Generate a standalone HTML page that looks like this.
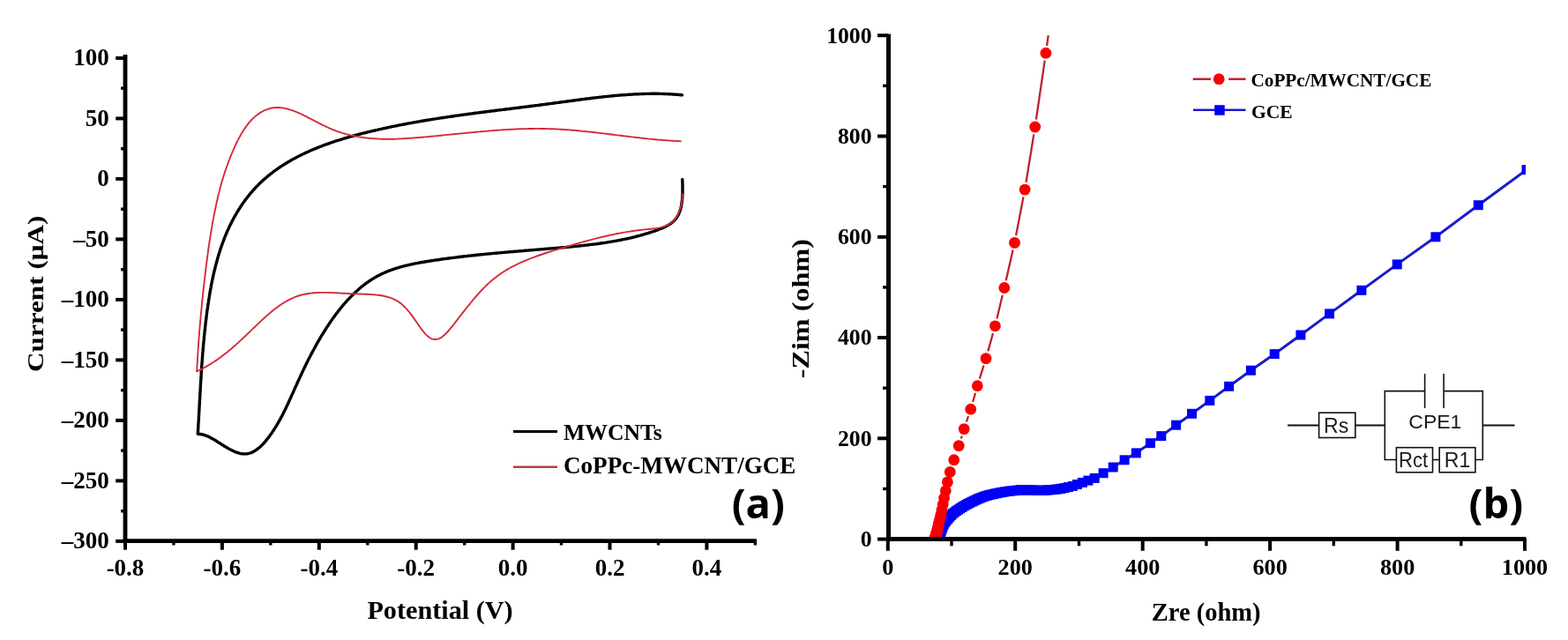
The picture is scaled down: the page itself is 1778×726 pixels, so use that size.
<!DOCTYPE html><html><head><meta charset="utf-8"><style>html,body{margin:0;padding:0;background:#fff;overflow:hidden}svg{display:block}.t{font-family:"Liberation Serif","Times New Roman",serif;font-weight:bold;fill:#000}.s{font-family:"Liberation Sans",Arial,sans-serif}.p{font-family:"Open Sans","Noto Sans","DejaVu Sans",sans-serif;font-weight:bold}</style></head><body>
<svg width="1778" height="726" viewBox="0 0 1778 726">
<rect width="1778" height="726" fill="#fff"/>
<path d="M773.8,203.5L773.8,205.0 773.9,206.5 773.9,208.0 774.0,209.6 774.0,211.2 774.0,212.8 774.0,214.4 774.0,216.0 774.0,217.6 774.0,219.2 773.9,220.9 773.8,222.5 773.7,224.1 773.6,225.7 773.4,227.3 773.2,228.9 773.0,230.5 772.8,232.1 772.5,233.6 772.2,235.1 771.8,236.6 771.4,238.1 770.9,239.5 770.4,240.8 769.9,242.2 769.3,243.5 768.6,244.7 767.9,245.9 767.2,247.1 766.4,248.2 765.5,249.2 764.6,250.2 763.6,251.1 762.6,252.0 761.5,252.9 760.4,253.7 759.3,254.4 758.1,255.2 756.9,255.9 755.6,256.5 754.4,257.2 753.1,257.8 751.8,258.4 750.4,259.0 749.1,259.5 747.7,260.0 746.3,260.6 745.0,261.1 743.6,261.6 742.2,262.1 740.8,262.5 739.4,263.0 738.0,263.5 736.6,263.9 735.2,264.4 733.8,264.8 732.4,265.2 730.9,265.7 729.5,266.1 728.1,266.5 726.7,266.9 725.2,267.3 723.8,267.7 722.4,268.0 720.9,268.4 719.5,268.8 718.0,269.1 716.6,269.5 715.1,269.8 713.6,270.2 712.2,270.5 710.7,270.8 709.3,271.1 707.8,271.4 706.3,271.7 704.8,272.0 703.4,272.3 701.9,272.6 700.4,272.9 698.9,273.2 697.4,273.4 695.9,273.7 694.4,273.9 693.0,274.2 691.5,274.4 690.0,274.7 688.5,274.9 687.0,275.2 685.5,275.4 684.0,275.6 682.5,275.8 680.9,276.0 679.4,276.3 677.9,276.5 676.4,276.7 674.9,276.9 673.4,277.1 671.9,277.2 670.4,277.4 668.9,277.6 667.4,277.8 665.8,278.0 664.3,278.1 662.8,278.3 661.3,278.5 659.8,278.6 658.3,278.8 656.7,279.0 655.2,279.1 653.7,279.3 652.2,279.4 650.7,279.6 649.1,279.7 647.6,279.9 646.1,280.0 644.6,280.2 643.1,280.3 641.6,280.4 640.0,280.6 638.5,280.7 637.0,280.8 635.5,281.0 634.0,281.1 632.5,281.2 631.0,281.4 629.4,281.5 627.9,281.6 626.4,281.7 624.9,281.9 623.4,282.0 621.9,282.1 620.4,282.2 618.9,282.4 617.4,282.5 615.9,282.6 614.4,282.7 612.9,282.9 611.4,283.0 609.9,283.1 608.4,283.2 606.9,283.4 605.4,283.5 603.9,283.6 602.4,283.7 600.9,283.9 599.4,284.0 597.9,284.1 596.4,284.2 594.9,284.3 593.5,284.5 592.0,284.6 590.5,284.7 589.0,284.8 587.5,285.0 586.0,285.1 584.5,285.2 583.0,285.3 581.5,285.5 580.1,285.6 578.6,285.7 577.1,285.8 575.6,286.0 574.1,286.1 572.6,286.2 571.1,286.4 569.7,286.5 568.2,286.6 566.7,286.8 565.2,286.9 563.7,287.0 562.2,287.2 560.7,287.3 559.3,287.4 557.8,287.6 556.3,287.7 554.8,287.9 553.3,288.0 551.8,288.1 550.4,288.3 548.9,288.4 547.4,288.6 545.9,288.7 544.4,288.9 542.9,289.0 541.4,289.2 540.0,289.3 538.5,289.5 537.0,289.7 535.5,289.8 534.0,290.0 532.5,290.1 531.0,290.3 529.6,290.5 528.1,290.6 526.6,290.8 525.1,291.0 523.6,291.2 522.1,291.3 520.6,291.5 519.1,291.7 517.6,291.9 516.1,292.1 514.7,292.3 513.2,292.4 511.7,292.6 510.2,292.8 508.7,293.0 507.2,293.2 505.7,293.4 504.2,293.6 502.7,293.8 501.2,294.0 499.7,294.2 498.2,294.5 496.7,294.7 495.2,294.9 493.7,295.1 492.2,295.3 490.7,295.6 489.2,295.8 487.7,296.0 486.2,296.3 484.7,296.5 483.1,296.8 481.6,297.0 480.1,297.3 478.6,297.5 477.1,297.8 475.6,298.0 474.1,298.3 472.6,298.6 471.1,298.9 469.6,299.2 468.1,299.5 466.6,299.8 465.2,300.1 463.7,300.5 462.2,300.8 460.7,301.2 459.3,301.5 457.8,301.9 456.3,302.3 454.9,302.7 453.4,303.1 452.0,303.5 450.5,304.0 449.1,304.4 447.7,304.9 446.3,305.3 444.8,305.8 443.4,306.3 442.0,306.8 440.6,307.4 439.3,307.9 437.9,308.5 436.5,309.1 435.2,309.7 433.8,310.3 432.5,310.9 431.1,311.6 429.8,312.2 428.5,312.9 427.2,313.6 425.9,314.4 424.6,315.1 423.4,315.9 422.1,316.6 420.9,317.4 419.6,318.2 418.4,319.1 417.2,319.9 416.0,320.8 414.8,321.7 413.6,322.6 412.4,323.5 411.2,324.4 410.1,325.3 408.9,326.3 407.8,327.2 406.6,328.2 405.5,329.2 404.4,330.2 403.3,331.2 402.2,332.3 401.1,333.3 400.0,334.4 398.9,335.4 397.9,336.5 396.8,337.6 395.8,338.7 394.7,339.8 393.7,340.9 392.7,342.0 391.7,343.2 390.7,344.3 389.7,345.5 388.7,346.6 387.7,347.8 386.8,349.0 385.8,350.2 384.9,351.4 383.9,352.6 383.0,353.8 382.0,355.0 381.1,356.2 380.2,357.4 379.3,358.7 378.4,359.9 377.5,361.1 376.6,362.4 375.8,363.6 374.9,364.9 374.1,366.1 373.2,367.4 372.4,368.7 371.5,369.9 370.7,371.2 369.9,372.4 369.1,373.7 368.3,375.0 367.5,376.3 366.7,377.5 365.9,378.8 365.1,380.1 364.3,381.4 363.5,382.7 362.8,384.0 362.0,385.3 361.3,386.5 360.5,387.8 359.8,389.1 359.1,390.4 358.3,391.7 357.6,393.1 356.9,394.4 356.2,395.7 355.5,397.0 354.8,398.3 354.1,399.6 353.4,400.9 352.7,402.2 352.0,403.6 351.3,404.9 350.6,406.2 349.9,407.5 349.3,408.9 348.6,410.2 347.9,411.5 347.3,412.9 346.6,414.2 346.0,415.6 345.3,416.9 344.7,418.2 344.0,419.6 343.4,420.9 342.8,422.3 342.1,423.6 341.5,425.0 340.9,426.3 340.2,427.7 339.6,429.1 339.0,430.4 338.3,431.8 337.7,433.1 337.1,434.5 336.5,435.9 335.9,437.2 335.2,438.6 334.6,440.0 334.0,441.3 333.4,442.7 332.8,444.1 332.2,445.5 331.6,446.8 330.9,448.2 330.3,449.6 329.7,451.0 329.1,452.4 328.4,453.7 327.8,455.1 327.2,456.5 326.6,457.9 325.9,459.2 325.3,460.6 324.6,462.0 324.0,463.3 323.3,464.7 322.6,466.1 321.9,467.4 321.3,468.8 320.6,470.2 319.9,471.5 319.2,472.9 318.4,474.2 317.7,475.6 317.0,476.9 316.2,478.2 315.4,479.6 314.7,480.9 313.9,482.2 313.1,483.6 312.3,484.9 311.4,486.2 310.6,487.5 309.8,488.8 308.9,490.1 308.0,491.4 307.1,492.6 306.2,493.9 305.3,495.2 304.3,496.4 303.3,497.7 302.4,498.9 301.4,500.1 300.4,501.3 299.3,502.5 298.3,503.6 297.2,504.7 296.2,505.7 295.1,506.8 294.0,507.7 292.9,508.7 291.7,509.5 290.6,510.4 289.4,511.1 288.3,511.8 287.1,512.5 285.9,513.1 284.7,513.6 283.5,514.0 282.3,514.4 281.0,514.6 279.8,514.8 278.5,514.9 277.2,514.9 276.0,514.9 274.7,514.8 273.4,514.6 272.1,514.3 270.8,513.9 269.4,513.5 268.1,513.1 266.8,512.6 265.4,512.0 264.1,511.4 262.7,510.8 261.4,510.1 260.0,509.4 258.7,508.6 257.3,507.8 256.0,507.0 254.6,506.2 253.2,505.3 251.9,504.5 250.5,503.6 249.2,502.7 247.8,501.9 246.4,501.0 245.1,500.1 243.7,499.3 242.4,498.5 241.0,497.7 239.6,496.9 238.3,496.2 236.9,495.5 235.5,494.9 234.1,494.3 232.7,493.8 231.4,493.4 230.0,493.0 228.6,492.7 227.1,492.5 225.7,492.3 224.3,492.3 224.4,490.8 224.5,489.3 224.6,487.8 224.7,486.3 224.8,484.8 224.8,483.3 224.9,481.8 225.0,480.3 225.1,478.8 225.2,477.3 225.3,475.8 225.4,474.3 225.4,472.8 225.5,471.3 225.6,469.8 225.7,468.3 225.8,466.8 225.9,465.3 225.9,463.8 226.0,462.4 226.1,460.9 226.2,459.4 226.3,457.9 226.3,456.4 226.4,454.9 226.5,453.4 226.6,451.9 226.7,450.4 226.8,448.9 226.8,447.4 226.9,445.9 227.0,444.4 227.1,443.0 227.2,441.5 227.3,440.0 227.3,438.5 227.4,437.0 227.5,435.5 227.6,434.0 227.7,432.5 227.8,431.0 227.9,429.5 228.0,428.0 228.1,426.6 228.2,425.1 228.2,423.6 228.3,422.1 228.4,420.6 228.5,419.1 228.6,417.6 228.7,416.1 228.8,414.6 228.9,413.1 229.0,411.6 229.2,410.1 229.3,408.6 229.4,407.2 229.5,405.7 229.6,404.2 229.7,402.7 229.8,401.2 229.9,399.7 230.1,398.2 230.2,396.7 230.3,395.2 230.4,393.7 230.6,392.2 230.7,390.7 230.8,389.2 231.0,387.7 231.1,386.2 231.3,384.7 231.4,383.2 231.5,381.7 231.7,380.2 231.8,378.7 232.0,377.2 232.1,375.7 232.3,374.2 232.5,372.7 232.6,371.2 232.8,369.7 233.0,368.2 233.1,366.7 233.3,365.2 233.5,363.7 233.7,362.2 233.9,360.7 234.1,359.1 234.2,357.6 234.4,356.1 234.6,354.6 234.8,353.1 235.0,351.6 235.3,350.1 235.5,348.6 235.7,347.0 235.9,345.5 236.1,344.0 236.4,342.5 236.6,341.0 236.8,339.5 237.1,338.0 237.3,336.4 237.6,334.9 237.8,333.4 238.1,331.9 238.3,330.4 238.6,328.9 238.9,327.4 239.2,325.8 239.4,324.3 239.7,322.8 240.0,321.3 240.3,319.8 240.6,318.3 240.9,316.8 241.3,315.3 241.6,313.8 241.9,312.3 242.2,310.8 242.6,309.3 242.9,307.8 243.3,306.3 243.7,304.8 244.0,303.4 244.4,301.9 244.8,300.4 245.2,298.9 245.6,297.4 246.0,296.0 246.4,294.5 246.8,293.0 247.2,291.6 247.6,290.1 248.1,288.6 248.5,287.2 249.0,285.7 249.5,284.3 249.9,282.8 250.4,281.4 250.9,280.0 251.4,278.5 251.9,277.1 252.4,275.7 252.9,274.3 253.5,272.9 254.0,271.5 254.5,270.0 255.1,268.6 255.7,267.3 256.2,265.9 256.8,264.5 257.4,263.1 258.0,261.7 258.6,260.4 259.3,259.0 259.9,257.6 260.5,256.3 261.2,254.9 261.9,253.6 262.5,252.3 263.2,250.9 263.9,249.6 264.6,248.3 265.3,247.0 266.0,245.7 266.8,244.4 267.5,243.1 268.3,241.8 269.0,240.5 269.8,239.3 270.6,238.0 271.4,236.7 272.2,235.5 273.0,234.3 273.8,233.0 274.6,231.8 275.5,230.6 276.3,229.4 277.2,228.2 278.0,227.0 278.9,225.8 279.8,224.7 280.7,223.5 281.6,222.4 282.5,221.2 283.4,220.1 284.4,219.0 285.3,217.9 286.3,216.8 287.3,215.7 288.2,214.6 289.2,213.5 290.2,212.4 291.2,211.4 292.2,210.4 293.3,209.3 294.3,208.3 295.3,207.3 296.4,206.3 297.5,205.3 298.5,204.3 299.6,203.4 300.7,202.4 301.8,201.5 302.9,200.5 304.0,199.6 305.2,198.7 306.3,197.8 307.4,196.9 308.6,196.0 309.7,195.1 310.9,194.2 312.1,193.4 313.3,192.5 314.5,191.7 315.7,190.8 316.9,190.0 318.1,189.2 319.3,188.4 320.5,187.6 321.8,186.8 323.0,186.0 324.3,185.3 325.5,184.5 326.8,183.7 328.1,183.0 329.4,182.3 330.6,181.5 331.9,180.8 333.2,180.1 334.5,179.4 335.8,178.7 337.2,178.0 338.5,177.3 339.8,176.7 341.1,176.0 342.5,175.3 343.8,174.7 345.2,174.0 346.5,173.4 347.9,172.8 349.3,172.2 350.6,171.5 352.0,170.9 353.4,170.3 354.8,169.7 356.2,169.2 357.6,168.6 359.0,168.0 360.4,167.4 361.8,166.9 363.2,166.3 364.6,165.8 366.0,165.2 367.5,164.7 368.9,164.2 370.3,163.7 371.8,163.1 373.2,162.6 374.6,162.1 376.1,161.6 377.5,161.1 379.0,160.6 380.4,160.2 381.9,159.7 383.4,159.2 384.8,158.8 386.3,158.3 387.7,157.8 389.2,157.4 390.7,156.9 392.2,156.5 393.6,156.1 395.1,155.6 396.6,155.2 398.1,154.8 399.6,154.4 401.1,154.0 402.5,153.6 404.0,153.2 405.5,152.8 407.0,152.4 408.5,152.0 410.0,151.6 411.5,151.2 413.0,150.8 414.5,150.5 416.0,150.1 417.5,149.7 419.0,149.4 420.5,149.0 421.9,148.7 423.4,148.3 424.9,148.0 426.4,147.6 427.9,147.3 429.4,146.9 430.9,146.6 432.4,146.3 433.9,145.9 435.4,145.6 436.9,145.3 438.4,145.0 439.9,144.6 441.4,144.3 442.9,144.0 444.4,143.7 445.8,143.4 447.3,143.1 448.8,142.8 450.3,142.5 451.8,142.2 453.3,141.9 454.8,141.6 456.3,141.3 457.8,141.0 459.2,140.8 460.7,140.5 462.2,140.2 463.7,139.9 465.2,139.7 466.7,139.4 468.2,139.1 469.6,138.8 471.1,138.6 472.6,138.3 474.1,138.1 475.6,137.8 477.1,137.5 478.5,137.3 480.0,137.0 481.5,136.8 483.0,136.5 484.5,136.3 485.9,136.1 487.4,135.8 488.9,135.6 490.4,135.3 491.9,135.1 493.4,134.9 494.8,134.6 496.3,134.4 497.8,134.2 499.3,133.9 500.8,133.7 502.2,133.5 503.7,133.3 505.2,133.1 506.7,132.8 508.1,132.6 509.6,132.4 511.1,132.2 512.6,132.0 514.1,131.8 515.5,131.5 517.0,131.3 518.5,131.1 520.0,130.9 521.4,130.7 522.9,130.5 524.4,130.3 525.9,130.1 527.4,129.9 528.8,129.7 530.3,129.5 531.8,129.3 533.3,129.1 534.7,128.9 536.2,128.7 537.7,128.5 539.2,128.3 540.7,128.1 542.1,127.9 543.6,127.7 545.1,127.5 546.6,127.4 548.0,127.2 549.5,127.0 551.0,126.8 552.5,126.6 553.9,126.4 555.4,126.2 556.9,126.0 558.4,125.9 559.9,125.7 561.3,125.5 562.8,125.3 564.3,125.1 565.8,124.9 567.3,124.7 568.7,124.6 570.2,124.4 571.7,124.2 573.2,124.0 574.6,123.8 576.1,123.6 577.6,123.5 579.1,123.3 580.6,123.1 582.0,122.9 583.5,122.7 585.0,122.5 586.5,122.4 588.0,122.2 589.5,122.0 590.9,121.8 592.4,121.6 593.9,121.4 595.4,121.2 596.9,121.1 598.3,120.9 599.8,120.7 601.3,120.5 602.8,120.3 604.3,120.1 605.8,119.9 607.2,119.7 608.7,119.6 610.2,119.4 611.7,119.2 613.2,119.0 614.7,118.8 616.2,118.6 617.7,118.4 619.1,118.2 620.6,118.0 622.1,117.8 623.6,117.6 625.1,117.4 626.6,117.2 628.1,117.0 629.6,116.8 631.1,116.6 632.5,116.4 634.0,116.2 635.5,116.0 637.0,115.8 638.5,115.6 640.0,115.4 641.5,115.2 643.0,115.0 644.5,114.8 646.0,114.6 647.5,114.4 649.0,114.2 650.5,114.0 652.0,113.8 653.5,113.6 654.9,113.4 656.4,113.2 657.9,113.0 659.4,112.8 660.9,112.6 662.4,112.4 663.9,112.2 665.4,112.0 666.9,111.9 668.4,111.7 669.9,111.5 671.4,111.3 672.9,111.1 674.4,110.9 675.9,110.8 677.4,110.6 678.9,110.4 680.4,110.2 681.9,110.1 683.4,109.9 684.9,109.7 686.4,109.6 687.9,109.4 689.4,109.3 690.9,109.1 692.4,109.0 693.9,108.8 695.4,108.7 696.9,108.5 698.4,108.4 699.9,108.3 701.4,108.1 702.9,108.0 704.4,107.9 705.9,107.8 707.4,107.7 708.9,107.6 710.4,107.5 711.9,107.4 713.4,107.3 714.9,107.2 716.4,107.1 717.9,107.0 719.4,106.9 720.9,106.8 722.5,106.8 724.0,106.7 725.5,106.6 727.0,106.6 728.5,106.5 730.0,106.5 731.5,106.4 733.0,106.4 734.5,106.4 736.0,106.4 737.5,106.3 739.0,106.3 740.5,106.3 742.0,106.3 743.5,106.3 745.0,106.3 746.5,106.3 748.0,106.4 749.5,106.4 751.0,106.4 752.5,106.5 754.0,106.5 755.5,106.6 757.0,106.6 758.5,106.7 760.0,106.8 761.5,106.9 763.0,107.0 764.5,107.1 766.0,107.2 767.5,107.3 769.0,107.4 770.5,107.5 772.0,107.7 773.5,107.8" fill="none" stroke="#000" stroke-width="3.4" stroke-linejoin="round" stroke-linecap="round"/>
<path d="M773.8,219.5L773.8,221.0 773.8,222.4 773.7,224.0 773.6,225.5 773.4,227.0 773.2,228.6 772.9,230.1 772.6,231.7 772.3,233.2 771.9,234.8 771.5,236.3 771.0,237.8 770.5,239.3 769.9,240.7 769.3,242.1 768.7,243.5 767.9,244.8 767.2,246.1 766.4,247.3 765.5,248.5 764.6,249.6 763.6,250.7 762.6,251.6 761.6,252.5 760.4,253.3 759.3,254.1 758.1,254.8 756.8,255.4 755.5,256.0 754.2,256.5 752.9,256.9 751.5,257.4 750.0,257.7 748.6,258.1 747.1,258.4 745.6,258.6 744.1,258.9 742.6,259.1 741.1,259.3 739.5,259.5 738.0,259.7 736.4,259.8 734.9,260.0 733.3,260.1 731.8,260.3 730.2,260.4 728.7,260.6 727.1,260.8 725.6,261.0 724.0,261.2 722.5,261.3 721.0,261.6 719.5,261.8 718.0,262.0 716.5,262.2 715.0,262.4 713.5,262.7 712.0,262.9 710.5,263.1 709.0,263.4 707.5,263.6 706.0,263.9 704.6,264.2 703.1,264.4 701.6,264.7 700.2,265.0 698.7,265.3 697.3,265.6 695.8,265.9 694.3,266.2 692.9,266.5 691.4,266.8 690.0,267.1 688.6,267.5 687.1,267.8 685.7,268.1 684.2,268.5 682.8,268.8 681.4,269.1 679.9,269.5 678.5,269.8 677.1,270.2 675.6,270.6 674.2,270.9 672.8,271.3 671.3,271.7 669.9,272.1 668.5,272.4 667.0,272.8 665.6,273.2 664.2,273.6 662.7,274.0 661.3,274.4 659.9,274.8 658.4,275.2 657.0,275.6 655.6,276.0 654.1,276.4 652.7,276.8 651.2,277.2 649.8,277.6 648.4,278.1 646.9,278.5 645.5,278.9 644.0,279.3 642.6,279.8 641.1,280.2 639.6,280.6 638.2,281.1 636.7,281.5 635.2,281.9 633.8,282.4 632.3,282.8 630.8,283.3 629.4,283.7 627.9,284.2 626.4,284.6 624.9,285.1 623.5,285.6 622.0,286.0 620.5,286.5 619.1,287.0 617.6,287.5 616.1,288.0 614.7,288.5 613.2,289.0 611.7,289.5 610.3,290.0 608.8,290.5 607.4,291.0 605.9,291.6 604.5,292.1 603.1,292.6 601.6,293.2 600.2,293.8 598.8,294.3 597.4,294.9 596.0,295.5 594.6,296.1 593.2,296.7 591.8,297.3 590.4,297.9 589.0,298.5 587.6,299.2 586.3,299.8 584.9,300.5 583.6,301.2 582.3,301.9 580.9,302.5 579.6,303.2 578.3,304.0 577.0,304.7 575.7,305.4 574.5,306.2 573.2,306.9 571.9,307.7 570.7,308.5 569.5,309.3 568.3,310.1 567.0,310.9 565.9,311.8 564.7,312.6 563.5,313.5 562.4,314.4 561.2,315.3 560.1,316.2 559.0,317.1 557.9,318.0 556.8,319.0 555.7,319.9 554.6,320.9 553.5,321.9 552.5,322.8 551.4,323.8 550.4,324.9 549.4,325.9 548.3,326.9 547.3,328.0 546.3,329.0 545.3,330.1 544.3,331.2 543.3,332.3 542.3,333.4 541.3,334.5 540.3,335.6 539.4,336.7 538.4,337.9 537.4,339.0 536.4,340.2 535.5,341.3 534.5,342.5 533.5,343.7 532.6,344.9 531.6,346.1 530.6,347.3 529.7,348.5 528.7,349.7 527.8,350.9 526.8,352.2 525.8,353.4 524.8,354.6 523.9,355.9 522.9,357.2 521.9,358.4 520.9,359.7 519.9,361.0 518.9,362.3 517.9,363.6 516.9,364.9 515.9,366.2 514.9,367.5 513.9,368.8 512.8,370.1 511.8,371.4 510.7,372.7 509.7,373.9 508.6,375.2 507.6,376.4 506.5,377.5 505.4,378.6 504.3,379.7 503.2,380.6 502.1,381.5 501.0,382.4 499.9,383.1 498.8,383.7 497.6,384.2 496.5,384.6 495.3,384.9 494.2,385.0 493.1,385.0 491.9,384.9 490.8,384.7 489.7,384.3 488.6,383.8 487.6,383.2 486.5,382.5 485.5,381.7 484.5,380.9 483.4,379.9 482.4,378.9 481.4,377.8 480.5,376.6 479.5,375.4 478.5,374.1 477.5,372.9 476.6,371.5 475.7,370.2 474.7,368.9 473.8,367.5 472.9,366.2 471.9,364.8 471.0,363.5 470.1,362.2 469.2,360.9 468.3,359.6 467.4,358.4 466.4,357.1 465.5,355.9 464.6,354.7 463.6,353.5 462.7,352.4 461.7,351.2 460.7,350.1 459.7,349.1 458.7,348.0 457.7,347.0 456.7,346.1 455.6,345.1 454.5,344.3 453.4,343.4 452.3,342.6 451.1,341.8 449.9,341.1 448.7,340.4 447.5,339.8 446.2,339.2 444.9,338.7 443.6,338.2 442.2,337.7 440.9,337.2 439.5,336.8 438.1,336.5 436.7,336.1 435.2,335.8 433.8,335.5 432.3,335.3 430.8,335.0 429.3,334.8 427.8,334.6 426.2,334.5 424.7,334.3 423.1,334.2 421.6,334.1 420.0,334.0 418.4,333.9 416.9,333.8 415.3,333.7 413.7,333.7 412.1,333.6 410.5,333.5 408.9,333.5 407.3,333.5 405.7,333.4 404.1,333.4 402.5,333.3 400.9,333.3 399.3,333.2 397.7,333.1 396.1,333.1 394.5,333.0 393.0,332.9 391.4,332.8 389.8,332.7 388.3,332.7 386.7,332.6 385.2,332.5 383.6,332.4 382.1,332.3 380.5,332.3 379.0,332.2 377.5,332.1 376.0,332.1 374.5,332.0 373.0,331.9 371.5,331.9 370.0,331.9 368.5,331.9 367.0,331.9 365.5,331.9 364.0,331.9 362.6,331.9 361.1,332.0 359.7,332.0 358.2,332.1 356.8,332.2 355.3,332.3 353.9,332.5 352.5,332.6 351.1,332.8 349.6,333.0 348.2,333.2 346.8,333.5 345.5,333.8 344.1,334.1 342.7,334.4 341.3,334.7 340.0,335.1 338.6,335.5 337.2,336.0 335.9,336.4 334.6,336.9 333.2,337.5 331.9,338.1 330.6,338.6 329.3,339.3 328.0,339.9 326.7,340.6 325.4,341.3 324.1,342.0 322.8,342.8 321.6,343.6 320.3,344.4 319.0,345.2 317.8,346.1 316.5,346.9 315.3,347.8 314.1,348.7 312.8,349.6 311.6,350.6 310.4,351.5 309.2,352.5 308.0,353.5 306.8,354.5 305.6,355.5 304.4,356.5 303.2,357.6 302.0,358.6 300.8,359.7 299.7,360.7 298.5,361.8 297.3,362.8 296.2,363.9 295.0,365.0 293.9,366.1 292.7,367.2 291.6,368.3 290.4,369.4 289.3,370.5 288.2,371.6 287.0,372.6 285.9,373.7 284.8,374.8 283.7,375.9 282.6,377.0 281.4,378.0 280.3,379.1 279.2,380.2 278.1,381.2 277.0,382.3 275.9,383.3 274.8,384.3 273.7,385.4 272.6,386.4 271.5,387.4 270.4,388.4 269.3,389.4 268.2,390.4 267.1,391.4 266.0,392.3 264.9,393.3 263.8,394.3 262.7,395.2 261.6,396.2 260.5,397.1 259.3,398.1 258.2,399.0 257.1,399.9 255.9,400.8 254.8,401.7 253.6,402.6 252.5,403.5 251.3,404.3 250.2,405.2 249.0,406.1 247.8,406.9 246.6,407.8 245.4,408.6 244.2,409.4 243.0,410.2 241.7,411.0 240.5,411.8 239.2,412.6 238.0,413.4 236.7,414.2 235.4,414.9 234.1,415.7 232.8,416.4 231.5,417.1 230.1,417.9 228.8,418.6 227.4,419.3 226.0,420.0 224.6,420.6 223.2,421.3 223.3,419.8 223.3,418.3 223.4,416.8 223.5,415.3 223.6,413.8 223.7,412.2 223.8,410.7 223.8,409.2 223.9,407.7 224.0,406.2 224.1,404.7 224.2,403.2 224.3,401.7 224.4,400.2 224.5,398.7 224.6,397.2 224.7,395.7 224.8,394.2 224.9,392.7 225.0,391.2 225.1,389.7 225.2,388.2 225.3,386.7 225.4,385.2 225.5,383.8 225.7,382.3 225.8,380.8 225.9,379.3 226.0,377.8 226.1,376.3 226.2,374.8 226.4,373.3 226.5,371.8 226.6,370.3 226.7,368.8 226.9,367.3 227.0,365.8 227.1,364.4 227.3,362.9 227.4,361.4 227.5,359.9 227.7,358.4 227.8,356.9 227.9,355.4 228.1,353.9 228.2,352.4 228.4,350.9 228.5,349.4 228.7,348.0 228.8,346.5 229.0,345.0 229.1,343.5 229.3,342.0 229.4,340.5 229.6,339.0 229.7,337.5 229.9,336.0 230.0,334.5 230.2,333.0 230.4,331.5 230.5,330.0 230.7,328.5 230.8,327.0 231.0,325.5 231.2,324.1 231.3,322.6 231.5,321.1 231.7,319.6 231.9,318.1 232.0,316.6 232.2,315.1 232.4,313.6 232.5,312.0 232.7,310.5 232.9,309.0 233.1,307.5 233.3,306.0 233.4,304.5 233.6,303.0 233.8,301.5 234.0,300.0 234.2,298.5 234.4,297.0 234.6,295.5 234.8,294.0 235.0,292.5 235.2,291.0 235.4,289.5 235.6,288.0 235.8,286.5 236.0,285.0 236.2,283.5 236.4,282.0 236.6,280.5 236.8,279.0 237.1,277.5 237.3,276.0 237.5,274.5 237.7,273.0 238.0,271.5 238.2,270.0 238.4,268.6 238.7,267.1 238.9,265.6 239.1,264.1 239.4,262.6 239.6,261.1 239.9,259.6 240.1,258.2 240.4,256.7 240.6,255.2 240.9,253.7 241.2,252.3 241.4,250.8 241.7,249.3 242.0,247.9 242.3,246.4 242.5,244.9 242.8,243.5 243.1,242.0 243.4,240.6 243.7,239.1 244.0,237.7 244.3,236.2 244.6,234.8 244.9,233.3 245.2,231.9 245.5,230.4 245.8,229.0 246.2,227.6 246.5,226.1 246.8,224.7 247.1,223.3 247.5,221.9 247.8,220.4 248.2,219.0 248.5,217.6 248.9,216.2 249.3,214.7 249.6,213.3 250.0,211.9 250.4,210.5 250.8,209.1 251.2,207.6 251.6,206.2 252.0,204.8 252.4,203.4 252.9,202.0 253.3,200.6 253.7,199.1 254.2,197.7 254.6,196.3 255.1,194.9 255.6,193.4 256.1,192.0 256.6,190.6 257.1,189.2 257.6,187.7 258.1,186.3 258.6,184.8 259.2,183.4 259.7,182.0 260.3,180.5 260.8,179.1 261.4,177.6 262.0,176.2 262.6,174.7 263.2,173.3 263.8,171.8 264.5,170.3 265.1,168.9 265.8,167.4 266.4,165.9 267.1,164.4 267.8,163.0 268.5,161.5 269.2,160.1 270.0,158.6 270.7,157.2 271.5,155.8 272.3,154.3 273.0,152.9 273.8,151.6 274.7,150.2 275.5,148.8 276.4,147.5 277.2,146.2 278.1,144.9 279.0,143.6 279.9,142.3 280.9,141.1 281.8,139.9 282.8,138.7 283.8,137.6 284.8,136.5 285.8,135.4 286.9,134.4 287.9,133.4 289.0,132.4 290.1,131.4 291.3,130.5 292.4,129.7 293.6,128.9 294.7,128.1 295.9,127.4 297.1,126.7 298.4,126.0 299.6,125.4 300.8,124.9 302.1,124.3 303.4,123.9 304.6,123.5 305.9,123.1 307.2,122.8 308.5,122.5 309.8,122.3 311.1,122.2 312.4,122.1 313.7,122.0 315.0,122.0 316.3,122.0 317.7,122.1 319.0,122.2 320.3,122.4 321.6,122.6 323.0,122.9 324.3,123.2 325.7,123.5 327.0,123.9 328.4,124.3 329.7,124.7 331.1,125.1 332.4,125.6 333.8,126.1 335.1,126.7 336.5,127.2 337.9,127.8 339.3,128.4 340.6,129.0 342.0,129.7 343.4,130.3 344.8,131.0 346.2,131.7 347.6,132.4 348.9,133.1 350.3,133.8 351.7,134.5 353.1,135.3 354.5,136.0 355.9,136.7 357.4,137.5 358.8,138.2 360.2,138.9 361.6,139.7 363.0,140.4 364.4,141.1 365.8,141.8 367.3,142.5 368.7,143.2 370.1,143.9 371.5,144.5 373.0,145.2 374.4,145.8 375.8,146.4 377.3,147.0 378.7,147.6 380.1,148.1 381.6,148.7 383.0,149.2 384.4,149.7 385.9,150.2 387.3,150.6 388.8,151.1 390.2,151.5 391.7,151.9 393.1,152.3 394.6,152.7 396.0,153.0 397.5,153.4 398.9,153.7 400.4,154.0 401.8,154.3 403.3,154.6 404.8,154.9 406.2,155.2 407.7,155.4 409.1,155.6 410.6,155.8 412.1,156.1 413.5,156.2 415.0,156.4 416.5,156.6 417.9,156.7 419.4,156.9 420.9,157.0 422.4,157.1 423.8,157.2 425.3,157.3 426.8,157.4 428.3,157.5 429.7,157.6 431.2,157.6 432.7,157.7 434.2,157.7 435.7,157.7 437.1,157.8 438.6,157.8 440.1,157.8 441.6,157.8 443.1,157.7 444.6,157.7 446.0,157.7 447.5,157.7 449.0,157.6 450.5,157.6 452.0,157.5 453.5,157.4 455.0,157.4 456.5,157.3 458.0,157.2 459.5,157.1 460.9,157.0 462.4,156.9 463.9,156.8 465.4,156.7 466.9,156.6 468.4,156.5 469.9,156.4 471.4,156.3 472.9,156.2 474.4,156.0 475.9,155.9 477.4,155.8 478.9,155.7 480.4,155.5 481.9,155.4 483.4,155.3 484.9,155.1 486.4,155.0 487.9,154.8 489.4,154.7 490.9,154.6 492.4,154.4 493.9,154.3 495.4,154.1 496.9,154.0 498.4,153.8 499.9,153.7 501.4,153.5 502.9,153.4 504.4,153.2 505.9,153.1 507.4,152.9 508.9,152.8 510.4,152.6 511.9,152.5 513.4,152.3 514.9,152.2 516.4,152.0 517.9,151.9 519.4,151.7 520.9,151.6 522.4,151.4 523.9,151.3 525.5,151.1 527.0,151.0 528.5,150.8 530.0,150.7 531.5,150.5 533.0,150.4 534.5,150.3 536.0,150.1 537.5,150.0 539.0,149.8 540.5,149.7 542.0,149.6 543.5,149.4 545.0,149.3 546.5,149.2 548.0,149.0 549.5,148.9 551.0,148.8 552.5,148.6 554.1,148.5 555.6,148.4 557.1,148.3 558.6,148.1 560.1,148.0 561.6,147.9 563.1,147.8 564.6,147.7 566.1,147.6 567.6,147.5 569.1,147.4 570.6,147.3 572.1,147.2 573.6,147.1 575.1,147.0 576.6,146.9 578.1,146.8 579.6,146.8 581.1,146.7 582.6,146.6 584.2,146.5 585.7,146.5 587.2,146.4 588.7,146.3 590.2,146.3 591.7,146.2 593.2,146.2 594.7,146.1 596.2,146.1 597.7,146.1 599.2,146.0 600.7,146.0 602.2,146.0 603.7,146.0 605.2,146.0 606.7,145.9 608.2,145.9 609.7,145.9 611.2,145.9 612.7,146.0 614.2,146.0 615.7,146.0 617.2,146.0 618.7,146.0 620.2,146.1 621.7,146.1 623.2,146.2 624.7,146.2 626.2,146.3 627.7,146.3 629.2,146.4 630.7,146.5 632.2,146.5 633.7,146.6 635.2,146.7 636.7,146.8 638.2,146.9 639.7,147.0 641.1,147.1 642.6,147.2 644.1,147.3 645.6,147.4 647.1,147.5 648.6,147.7 650.1,147.8 651.6,147.9 653.1,148.0 654.6,148.2 656.1,148.3 657.6,148.5 659.1,148.6 660.6,148.8 662.1,148.9 663.6,149.1 665.0,149.2 666.5,149.4 668.0,149.5 669.5,149.7 671.0,149.9 672.5,150.0 674.0,150.2 675.5,150.4 677.0,150.5 678.5,150.7 680.0,150.9 681.5,151.1 682.9,151.2 684.4,151.4 685.9,151.6 687.4,151.8 688.9,152.0 690.4,152.2 691.9,152.3 693.4,152.5 694.9,152.7 696.4,152.9 697.9,153.1 699.3,153.3 700.8,153.4 702.3,153.6 703.8,153.8 705.3,154.0 706.8,154.2 708.3,154.4 709.8,154.5 711.3,154.7 712.8,154.9 714.3,155.1 715.8,155.3 717.2,155.4 718.7,155.6 720.2,155.8 721.7,156.0 723.2,156.1 724.7,156.3 726.2,156.5 727.7,156.6 729.2,156.8 730.7,157.0 732.2,157.1 733.7,157.3 735.2,157.4 736.7,157.6 738.2,157.7 739.6,157.9 741.1,158.0 742.6,158.2 744.1,158.3 745.6,158.5 747.1,158.6 748.6,158.7 750.1,158.8 751.6,159.0 753.1,159.1 754.6,159.2 756.1,159.3 757.6,159.4 759.1,159.5 760.6,159.6 762.1,159.7 763.6,159.8 765.1,159.9 766.6,159.9 768.1,160.0 769.6,160.1 771.1,160.1 772.6,160.2" fill="none" stroke="#d42a3a" stroke-width="1.9" stroke-linejoin="round"/>
<g stroke="#000" fill="none">
<line x1="142.0" y1="62.0" x2="142.0" y2="616.0" stroke-width="4.8"/>
<line x1="139.6" y1="613.6" x2="857.9" y2="613.6" stroke-width="4.8"/>
<line x1="131.2" y1="65.9" x2="142.0" y2="65.9" stroke-width="4"/>
<line x1="137.0" y1="100.1" x2="142.0" y2="100.1" stroke-width="3.4"/>
<line x1="131.2" y1="134.4" x2="142.0" y2="134.4" stroke-width="4"/>
<line x1="137.0" y1="168.7" x2="142.0" y2="168.7" stroke-width="3.4"/>
<line x1="131.2" y1="202.9" x2="142.0" y2="202.9" stroke-width="4"/>
<line x1="137.0" y1="237.2" x2="142.0" y2="237.2" stroke-width="3.4"/>
<line x1="131.2" y1="271.4" x2="142.0" y2="271.4" stroke-width="4"/>
<line x1="137.0" y1="305.7" x2="142.0" y2="305.7" stroke-width="3.4"/>
<line x1="131.2" y1="339.9" x2="142.0" y2="339.9" stroke-width="4"/>
<line x1="137.0" y1="374.1" x2="142.0" y2="374.1" stroke-width="3.4"/>
<line x1="131.2" y1="408.4" x2="142.0" y2="408.4" stroke-width="4"/>
<line x1="137.0" y1="442.7" x2="142.0" y2="442.7" stroke-width="3.4"/>
<line x1="131.2" y1="476.9" x2="142.0" y2="476.9" stroke-width="4"/>
<line x1="137.0" y1="511.1" x2="142.0" y2="511.1" stroke-width="3.4"/>
<line x1="131.2" y1="545.4" x2="142.0" y2="545.4" stroke-width="4"/>
<line x1="137.0" y1="579.7" x2="142.0" y2="579.7" stroke-width="3.4"/>
<line x1="131.2" y1="613.9" x2="142.0" y2="613.9" stroke-width="4"/>
<line x1="142.0" y1="613.6" x2="142.0" y2="623.7" stroke-width="4"/>
<line x1="196.9" y1="613.6" x2="196.9" y2="618.5" stroke-width="3.4"/>
<line x1="251.9" y1="613.6" x2="251.9" y2="623.7" stroke-width="4"/>
<line x1="306.8" y1="613.6" x2="306.8" y2="618.5" stroke-width="3.4"/>
<line x1="361.8" y1="613.6" x2="361.8" y2="623.7" stroke-width="4"/>
<line x1="416.8" y1="613.6" x2="416.8" y2="618.5" stroke-width="3.4"/>
<line x1="471.7" y1="613.6" x2="471.7" y2="623.7" stroke-width="4"/>
<line x1="526.7" y1="613.6" x2="526.7" y2="618.5" stroke-width="3.4"/>
<line x1="581.6" y1="613.6" x2="581.6" y2="623.7" stroke-width="4"/>
<line x1="636.5" y1="613.6" x2="636.5" y2="618.5" stroke-width="3.4"/>
<line x1="691.5" y1="613.6" x2="691.5" y2="623.7" stroke-width="4"/>
<line x1="746.5" y1="613.6" x2="746.5" y2="618.5" stroke-width="3.4"/>
<line x1="801.4" y1="613.6" x2="801.4" y2="623.7" stroke-width="4"/>
<line x1="856.4" y1="613.6" x2="856.4" y2="618.5" stroke-width="3.4"/>
</g>
<g class="t" font-size="27" text-anchor="end">
<text x="123.8" y="74.2">100</text>
<text x="123.8" y="142.7">50</text>
<text x="123.8" y="211.2">0</text>
<text x="123.8" y="279.7">–50</text>
<text x="123.8" y="348.2">–100</text>
<text x="123.8" y="416.7">–150</text>
<text x="123.8" y="485.2">–200</text>
<text x="123.8" y="553.7">–250</text>
<text x="123.8" y="622.2">–300</text>
</g>
<g class="t" font-size="27" text-anchor="middle">
<text x="142.0" y="653">-0.8</text>
<text x="251.9" y="653">-0.6</text>
<text x="361.8" y="653">-0.4</text>
<text x="471.7" y="653">-0.2</text>
<text x="581.6" y="653">0.0</text>
<text x="691.5" y="653">0.2</text>
<text x="801.4" y="653">0.4</text>
</g>
<text class="t" font-size="30.2" x="499" y="702" text-anchor="middle">Potential (V)</text>
<text class="t" font-size="31.2" transform="translate(49.3,333.3) rotate(-90) scale(1,0.83)" text-anchor="middle">Current (μA)</text>
<line x1="582" y1="489.5" x2="632" y2="489.5" stroke="#000" stroke-width="3"/>
<line x1="582" y1="529.8" x2="632" y2="529.8" stroke="#b83a3e" stroke-width="2.6"/>
<text class="t" font-size="25.7" x="639" y="499">MWCNTs</text>
<text class="t" font-size="27.1" x="639" y="536.5">CoPPc-MWCNT/GCE</text>
<text class="p" font-size="47" x="829.7" y="587.5">(a)</text>
<defs><clipPath id="cb"><rect x="1007" y="38" width="723" height="576"/></clipPath></defs>
<g clip-path="url(#cb)">
<polyline points="1065.5,608.5 1066.0,606.9 1066.7,604.4 1067.4,601.9 1068.2,599.5 1069.2,597.1 1070.3,594.7 1071.5,592.4 1073.2,590.5 1074.9,588.5 1076.6,586.6 1078.4,584.7 1080.2,582.8 1082.2,581.2 1084.3,579.7 1086.5,578.2 1088.7,576.8 1090.9,575.4 1093.0,574.0 1095.3,572.8 1097.6,571.5 1099.9,570.3 1102.3,569.1 1104.6,568.0 1107.0,566.9 1109.3,565.8 1111.7,564.9 1114.2,563.9 1116.6,563.0 1119.1,562.2 1121.6,561.6 1124.1,561.0 1126.6,560.4 1129.2,559.8 1131.7,559.3 1134.3,558.8 1136.8,558.3 1139.4,557.9 1142.0,557.5 1144.5,557.1 1147.1,556.9 1149.7,556.6 1152.3,556.3 1154.9,556.1 1157.5,555.8 1160.1,555.8 1162.7,555.8 1165.3,555.9 1167.9,555.9 1170.5,556.0 1173.1,556.1 1175.7,556.3 1178.3,556.4 1180.9,556.3 1183.5,556.2 1186.1,556.1 1188.6,555.9 1191.2,555.7 1193.8,555.5 1196.6,555.2 1199.8,554.9 1203.2,554.3 1207.1,553.6 1211.4,552.6 1216.3,551.4 1221.5,549.5 1227.3,547.4 1233.9,545.1 1241.2,542.4 1251.1,536.7 1262.2,530.0 1275.1,521.8 1288.3,513.9 1304.4,502.7 1316.8,494.6 1333.6,482.2 1351.5,469.3 1371.8,454.4 1393.6,438.3 1418.4,420.2 1445.2,401.6 1474.9,380.0 1507.5,355.9 1543.9,329.3 1584.2,299.9 1627.9,268.8 1676.3,232.7 1731.0,192.6" fill="none" stroke="#1c1cc8" stroke-width="3"/>
<rect x="1060.0" y="603.0" width="11" height="11" fill="#0000f8"/>
<rect x="1060.5" y="601.4" width="11" height="11" fill="#0000f8"/>
<rect x="1061.2" y="598.9" width="11" height="11" fill="#0000f8"/>
<rect x="1061.9" y="596.4" width="11" height="11" fill="#0000f8"/>
<rect x="1062.7" y="594.0" width="11" height="11" fill="#0000f8"/>
<rect x="1063.7" y="591.6" width="11" height="11" fill="#0000f8"/>
<rect x="1064.8" y="589.2" width="11" height="11" fill="#0000f8"/>
<rect x="1066.0" y="586.9" width="11" height="11" fill="#0000f8"/>
<rect x="1067.7" y="585.0" width="11" height="11" fill="#0000f8"/>
<rect x="1069.4" y="583.0" width="11" height="11" fill="#0000f8"/>
<rect x="1071.1" y="581.1" width="11" height="11" fill="#0000f8"/>
<rect x="1072.9" y="579.2" width="11" height="11" fill="#0000f8"/>
<rect x="1074.7" y="577.3" width="11" height="11" fill="#0000f8"/>
<rect x="1076.7" y="575.7" width="11" height="11" fill="#0000f8"/>
<rect x="1078.8" y="574.2" width="11" height="11" fill="#0000f8"/>
<rect x="1081.0" y="572.7" width="11" height="11" fill="#0000f8"/>
<rect x="1083.2" y="571.3" width="11" height="11" fill="#0000f8"/>
<rect x="1085.4" y="569.9" width="11" height="11" fill="#0000f8"/>
<rect x="1087.5" y="568.5" width="11" height="11" fill="#0000f8"/>
<rect x="1089.8" y="567.3" width="11" height="11" fill="#0000f8"/>
<rect x="1092.1" y="566.0" width="11" height="11" fill="#0000f8"/>
<rect x="1094.4" y="564.8" width="11" height="11" fill="#0000f8"/>
<rect x="1096.8" y="563.6" width="11" height="11" fill="#0000f8"/>
<rect x="1099.1" y="562.5" width="11" height="11" fill="#0000f8"/>
<rect x="1101.5" y="561.4" width="11" height="11" fill="#0000f8"/>
<rect x="1103.8" y="560.3" width="11" height="11" fill="#0000f8"/>
<rect x="1106.2" y="559.4" width="11" height="11" fill="#0000f8"/>
<rect x="1108.7" y="558.4" width="11" height="11" fill="#0000f8"/>
<rect x="1111.1" y="557.5" width="11" height="11" fill="#0000f8"/>
<rect x="1113.6" y="556.7" width="11" height="11" fill="#0000f8"/>
<rect x="1116.1" y="556.1" width="11" height="11" fill="#0000f8"/>
<rect x="1118.6" y="555.5" width="11" height="11" fill="#0000f8"/>
<rect x="1121.1" y="554.9" width="11" height="11" fill="#0000f8"/>
<rect x="1123.7" y="554.3" width="11" height="11" fill="#0000f8"/>
<rect x="1126.2" y="553.8" width="11" height="11" fill="#0000f8"/>
<rect x="1128.8" y="553.3" width="11" height="11" fill="#0000f8"/>
<rect x="1131.3" y="552.8" width="11" height="11" fill="#0000f8"/>
<rect x="1133.9" y="552.4" width="11" height="11" fill="#0000f8"/>
<rect x="1136.5" y="552.0" width="11" height="11" fill="#0000f8"/>
<rect x="1139.0" y="551.6" width="11" height="11" fill="#0000f8"/>
<rect x="1141.6" y="551.4" width="11" height="11" fill="#0000f8"/>
<rect x="1144.2" y="551.1" width="11" height="11" fill="#0000f8"/>
<rect x="1146.8" y="550.8" width="11" height="11" fill="#0000f8"/>
<rect x="1149.4" y="550.6" width="11" height="11" fill="#0000f8"/>
<rect x="1152.0" y="550.3" width="11" height="11" fill="#0000f8"/>
<rect x="1154.6" y="550.3" width="11" height="11" fill="#0000f8"/>
<rect x="1157.2" y="550.3" width="11" height="11" fill="#0000f8"/>
<rect x="1159.8" y="550.4" width="11" height="11" fill="#0000f8"/>
<rect x="1162.4" y="550.4" width="11" height="11" fill="#0000f8"/>
<rect x="1165.0" y="550.5" width="11" height="11" fill="#0000f8"/>
<rect x="1167.6" y="550.6" width="11" height="11" fill="#0000f8"/>
<rect x="1170.2" y="550.8" width="11" height="11" fill="#0000f8"/>
<rect x="1172.8" y="550.9" width="11" height="11" fill="#0000f8"/>
<rect x="1175.4" y="550.8" width="11" height="11" fill="#0000f8"/>
<rect x="1178.0" y="550.7" width="11" height="11" fill="#0000f8"/>
<rect x="1180.6" y="550.6" width="11" height="11" fill="#0000f8"/>
<rect x="1183.1" y="550.4" width="11" height="11" fill="#0000f8"/>
<rect x="1185.7" y="550.2" width="11" height="11" fill="#0000f8"/>
<rect x="1188.3" y="550.0" width="11" height="11" fill="#0000f8"/>
<rect x="1191.1" y="549.7" width="11" height="11" fill="#0000f8"/>
<rect x="1194.3" y="549.4" width="11" height="11" fill="#0000f8"/>
<rect x="1197.7" y="548.8" width="11" height="11" fill="#0000f8"/>
<rect x="1201.6" y="548.1" width="11" height="11" fill="#0000f8"/>
<rect x="1205.9" y="547.1" width="11" height="11" fill="#0000f8"/>
<rect x="1210.8" y="545.9" width="11" height="11" fill="#0000f8"/>
<rect x="1216.0" y="544.0" width="11" height="11" fill="#0000f8"/>
<rect x="1221.8" y="541.9" width="11" height="11" fill="#0000f8"/>
<rect x="1228.4" y="539.6" width="11" height="11" fill="#0000f8"/>
<rect x="1235.7" y="536.9" width="11" height="11" fill="#0000f8"/>
<rect x="1245.6" y="531.2" width="11" height="11" fill="#0000f8"/>
<rect x="1256.7" y="524.5" width="11" height="11" fill="#0000f8"/>
<rect x="1269.6" y="516.3" width="11" height="11" fill="#0000f8"/>
<rect x="1282.8" y="508.4" width="11" height="11" fill="#0000f8"/>
<rect x="1298.9" y="497.2" width="11" height="11" fill="#0000f8"/>
<rect x="1311.3" y="489.1" width="11" height="11" fill="#0000f8"/>
<rect x="1328.1" y="476.7" width="11" height="11" fill="#0000f8"/>
<rect x="1346.0" y="463.8" width="11" height="11" fill="#0000f8"/>
<rect x="1366.3" y="448.9" width="11" height="11" fill="#0000f8"/>
<rect x="1388.1" y="432.8" width="11" height="11" fill="#0000f8"/>
<rect x="1412.9" y="414.7" width="11" height="11" fill="#0000f8"/>
<rect x="1439.7" y="396.1" width="11" height="11" fill="#0000f8"/>
<rect x="1469.4" y="374.5" width="11" height="11" fill="#0000f8"/>
<rect x="1502.0" y="350.4" width="11" height="11" fill="#0000f8"/>
<rect x="1538.4" y="323.8" width="11" height="11" fill="#0000f8"/>
<rect x="1578.7" y="294.4" width="11" height="11" fill="#0000f8"/>
<rect x="1622.4" y="263.3" width="11" height="11" fill="#0000f8"/>
<rect x="1670.8" y="227.2" width="11" height="11" fill="#0000f8"/>
<rect x="1725.5" y="187.1" width="11" height="11" fill="#0000f8"/>
<path d="M1188.7,40.2L1187.1,51.8M1184.7,68.6L1174.9,135.6M1172.3,152.4L1163.5,206.7M1160.5,223.4L1152.1,267.0M1148.6,283.6L1140.7,318.2M1136.8,334.7L1130.4,361.5M1126.0,378.0L1120.3,398.4M1115.5,414.7L1110.8,429.6M1106.0,445.9L1103.1,456.0M1098.0,472.2L1095.9,478.5M1090.7,494.7L1089.8,497.5" fill="none" stroke="#c02030" stroke-width="2.3"/>
<circle cx="1185.9" cy="60.2" r="6.4" fill="#f80000"/>
<circle cx="1173.7" cy="144.0" r="6.4" fill="#f80000"/>
<circle cx="1162.1" cy="215.1" r="6.4" fill="#f80000"/>
<circle cx="1150.5" cy="275.4" r="6.4" fill="#f80000"/>
<circle cx="1138.8" cy="326.5" r="6.4" fill="#f80000"/>
<circle cx="1128.4" cy="369.8" r="6.4" fill="#f80000"/>
<circle cx="1118.0" cy="406.6" r="6.4" fill="#f80000"/>
<circle cx="1108.3" cy="437.7" r="6.4" fill="#f80000"/>
<circle cx="1100.7" cy="464.2" r="6.4" fill="#f80000"/>
<circle cx="1093.2" cy="486.6" r="6.4" fill="#f80000"/>
<circle cx="1087.2" cy="505.6" r="6.4" fill="#f80000"/>
<circle cx="1081.7" cy="521.7" r="6.4" fill="#f80000"/>
<circle cx="1077.3" cy="535.4" r="6.4" fill="#f80000"/>
<circle cx="1074.4" cy="546.9" r="6.4" fill="#f80000"/>
<circle cx="1072.3" cy="556.8" r="6.4" fill="#f80000"/>
<circle cx="1070.6" cy="565.1" r="6.4" fill="#f80000"/>
<circle cx="1069.2" cy="572.2" r="6.4" fill="#f80000"/>
<circle cx="1068.0" cy="578.2" r="6.4" fill="#f80000"/>
<circle cx="1067.0" cy="583.2" r="6.4" fill="#f80000"/>
<circle cx="1066.0" cy="587.6" r="6.4" fill="#f80000"/>
<circle cx="1065.1" cy="591.2" r="6.4" fill="#f80000"/>
<circle cx="1064.4" cy="594.3" r="6.4" fill="#f80000"/>
<circle cx="1063.8" cy="596.9" r="6.4" fill="#f80000"/>
<circle cx="1063.3" cy="599.2" r="6.4" fill="#f80000"/>
<circle cx="1062.9" cy="601.1" r="6.4" fill="#f80000"/>
<circle cx="1062.5" cy="602.7" r="6.4" fill="#f80000"/>
<circle cx="1062.1" cy="604.0" r="6.4" fill="#f80000"/>
<circle cx="1061.8" cy="605.2" r="6.4" fill="#f80000"/>
<circle cx="1061.5" cy="606.1" r="6.4" fill="#f80000"/>
<circle cx="1061.3" cy="607.0" r="6.4" fill="#f80000"/>
<circle cx="1061.1" cy="607.7" r="6.4" fill="#f80000"/>
<circle cx="1061.0" cy="608.3" r="6.4" fill="#f80000"/>
<circle cx="1060.8" cy="608.8" r="6.4" fill="#f80000"/>
<circle cx="1060.7" cy="609.2" r="6.4" fill="#f80000"/>
<circle cx="1060.6" cy="609.6" r="6.4" fill="#f80000"/>
<circle cx="1060.5" cy="609.9" r="6.4" fill="#f80000"/>
<circle cx="1060.4" cy="610.1" r="6.4" fill="#f80000"/>
<circle cx="1060.4" cy="610.4" r="6.4" fill="#f80000"/>
<circle cx="1060.3" cy="610.6" r="6.4" fill="#f80000"/>
<circle cx="1060.3" cy="610.7" r="6.4" fill="#f80000"/>
<circle cx="1060.2" cy="610.8" r="6.4" fill="#f80000"/>
<circle cx="1060.2" cy="611.0" r="6.4" fill="#f80000"/>
<circle cx="1060.0" cy="611.6" r="6.4" fill="#f80000"/>
</g>
<g stroke="#000" fill="none">
<line x1="1007.5" y1="38.5" x2="1007.5" y2="614" stroke-width="5"/>
<line x1="1005" y1="611.5" x2="1730.5" y2="611.5" stroke-width="5"/>
<line x1="995" y1="611.6" x2="1007" y2="611.6" stroke-width="4"/>
<line x1="1001" y1="554.5" x2="1007" y2="554.5" stroke-width="3.4"/>
<line x1="1006.8" y1="611" x2="1006.8" y2="624.8" stroke-width="4"/>
<line x1="1079.0" y1="611" x2="1079.0" y2="619.3" stroke-width="3.4"/>
<line x1="995" y1="497.3" x2="1007" y2="497.3" stroke-width="4"/>
<line x1="1001" y1="440.2" x2="1007" y2="440.2" stroke-width="3.4"/>
<line x1="1151.2" y1="611" x2="1151.2" y2="624.8" stroke-width="4"/>
<line x1="1223.5" y1="611" x2="1223.5" y2="619.3" stroke-width="3.4"/>
<line x1="995" y1="383.0" x2="1007" y2="383.0" stroke-width="4"/>
<line x1="1001" y1="325.9" x2="1007" y2="325.9" stroke-width="3.4"/>
<line x1="1295.7" y1="611" x2="1295.7" y2="624.8" stroke-width="4"/>
<line x1="1367.9" y1="611" x2="1367.9" y2="619.3" stroke-width="3.4"/>
<line x1="995" y1="268.8" x2="1007" y2="268.8" stroke-width="4"/>
<line x1="1001" y1="211.6" x2="1007" y2="211.6" stroke-width="3.4"/>
<line x1="1440.1" y1="611" x2="1440.1" y2="624.8" stroke-width="4"/>
<line x1="1512.3" y1="611" x2="1512.3" y2="619.3" stroke-width="3.4"/>
<line x1="995" y1="154.5" x2="1007" y2="154.5" stroke-width="4"/>
<line x1="1001" y1="97.3" x2="1007" y2="97.3" stroke-width="3.4"/>
<line x1="1584.6" y1="611" x2="1584.6" y2="624.8" stroke-width="4"/>
<line x1="1656.8" y1="611" x2="1656.8" y2="619.3" stroke-width="3.4"/>
<line x1="995" y1="40.2" x2="1007" y2="40.2" stroke-width="4"/>
<line x1="1729.0" y1="611" x2="1729.0" y2="624.8" stroke-width="4"/>
</g>
<g class="t" font-size="25.7" text-anchor="end">
<text x="988.5" y="620.0">0</text>
<text x="988.5" y="505.7">200</text>
<text x="988.5" y="391.4">400</text>
<text x="988.5" y="277.2">600</text>
<text x="988.5" y="162.9">800</text>
<text x="988.5" y="48.6">1000</text>
</g>
<g class="t" font-size="26.2" text-anchor="middle">
<text x="1006.8" y="652.2">0</text>
<text x="1151.2" y="652.2">200</text>
<text x="1295.7" y="652.2">400</text>
<text x="1440.1" y="652.2">600</text>
<text x="1584.6" y="652.2">800</text>
<text x="1729.0" y="652.2">1000</text>
</g>
<text class="t" font-size="28.5" transform="translate(1367.6,703.9) scale(1,1.06)" text-anchor="middle">Zre (ohm)</text>
<text class="t" font-size="32.2" transform="translate(916.6,350.2) rotate(-90) scale(1,0.84)" text-anchor="middle">-Zim (ohm)</text>
<line x1="1352.7" y1="89.7" x2="1372.9" y2="89.7" stroke="#c02030" stroke-width="2.5"/>
<line x1="1393.1" y1="89.7" x2="1412.5" y2="89.7" stroke="#c02030" stroke-width="2.5"/>
<circle cx="1382.2" cy="89.7" r="6.4" fill="#f80000"/>
<line x1="1353" y1="124.8" x2="1412.5" y2="124.8" stroke="#1c1cc8" stroke-width="2.5"/>
<rect x="1377.2" y="119.2" width="11.5" height="11.5" fill="#0000f8"/>
<text class="t" font-size="21.2" x="1418.5" y="97.8">CoPPc/MWCNT/GCE</text>
<text class="t" font-size="21.5" x="1419" y="134">GCE</text>
<text class="p" font-size="47" x="1665.5" y="588">(b)</text>
<g stroke="#111" fill="none" stroke-width="2">
<line x1="1460" y1="482.5" x2="1495.6" y2="482.5"/>
<rect x="1495.6" y="468.2" width="41.2" height="28.3" stroke-width="1.6" fill="#fff"/>
<line x1="1536.8" y1="482.5" x2="1570.3" y2="482.5"/>
<polyline points="1615.6,443.6 1570.3,443.6 1570.3,521.5 1583.4,521.5" stroke-width="1.6"/>
<polyline points="1637.1,443.6 1681.3,443.6 1681.3,521.5 1672.9,521.5" stroke-width="1.6"/>
<line x1="1615.6" y1="424" x2="1615.6" y2="463" stroke-width="1.6"/>
<line x1="1637.1" y1="424" x2="1637.1" y2="463" stroke-width="1.6"/>
<line x1="1681.3" y1="482.5" x2="1717.6" y2="482.5"/>
<rect x="1583.4" y="507.7" width="41.1" height="28.1" stroke-width="1.6"/>
<line x1="1624.5" y1="521.5" x2="1632.2" y2="521.5" stroke-width="1.6"/>
<rect x="1632.2" y="507.7" width="40.7" height="28.1" stroke-width="1.6"/>
</g>
<g class="s" fill="#1a1a1a" font-size="23">
<text x="1501.1" y="490.9">Rs</text>
<text transform="translate(1597.3,485.5) scale(1,0.93)">CPE1</text>
<text x="1586.1" y="530.3" textLength="33" lengthAdjust="spacingAndGlyphs">Rct</text>
<text x="1637.8" y="530.3">R1</text>
</g>
</svg></body></html>
